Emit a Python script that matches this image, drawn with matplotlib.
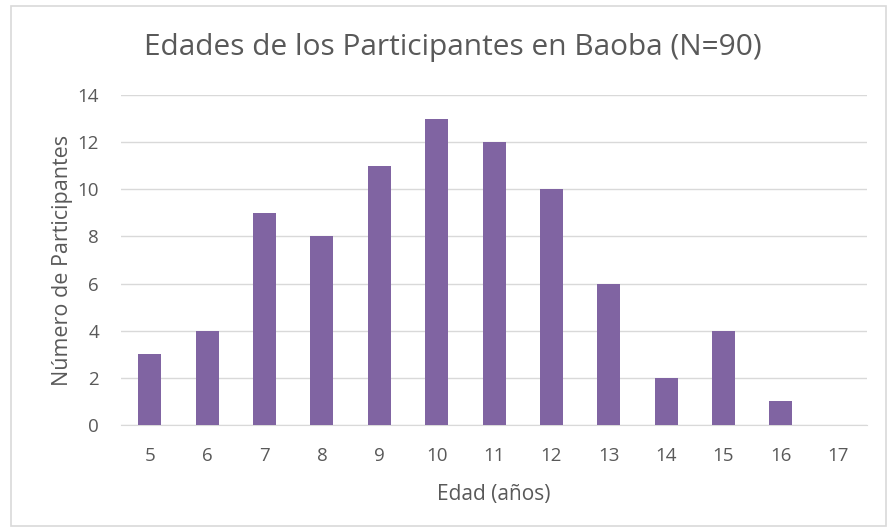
import matplotlib.pyplot as plt
from matplotlib.patches import Rectangle

edades = [5, 6, 7, 8, 9, 10, 11, 12, 13, 14, 15, 16, 17]
participantes = [3, 4, 9, 8, 11, 13, 12, 10, 6, 2, 4, 1, 0]
yticks = [0, 2, 4, 6, 8, 10, 12, 14]

plt.rcParams['font.family'] = ['Open Sans', 'DejaVu Sans']
gris = '#595959'

fig = plt.figure(figsize=(8.91, 5.29), dpi=100)
ax = fig.add_axes([0.136, 0.197, 0.837, 0.623])

x = range(len(edades))
ax.bar(x, participantes, width=0.4, color='#8064A2', zorder=3)

ax.set_xlim(-0.5, len(edades) - 0.5)
ax.set_ylim(0, 14)
ax.set_yticks(yticks)
ax.set_xticks(list(x))
ax.set_xticklabels([str(e) for e in edades])
ax.grid(axis='y', color='#D9D9D9', linewidth=1, zorder=0)
for s in ['top', 'right', 'left']:
    ax.spines[s].set_visible(False)
ax.spines['bottom'].set_color('#D9D9D9')
ax.tick_params(length=0, labelsize=13.5, labelcolor=gris)
ax.tick_params(axis='x', pad=16)
ax.tick_params(axis='y', pad=16)

ax.set_xlabel('Edad (años)', fontsize=15, color=gris, labelpad=14)
ax.set_ylabel('Número de Participantes', fontsize=15.5, color=gris, labelpad=3)
fig.text(0.508, 0.91, 'Edades de los Participantes en Baoba (N=90)',
         ha='center', va='center', fontsize=21.5, color=gris)

# marco exterior del gráfico
fig.patches.append(Rectangle((0.012, 0.006), 0.982, 0.982, transform=fig.transFigure,
                             fill=False, edgecolor='#D9D9D9', linewidth=1.2))

fig.savefig('out.png', dpi=100)
